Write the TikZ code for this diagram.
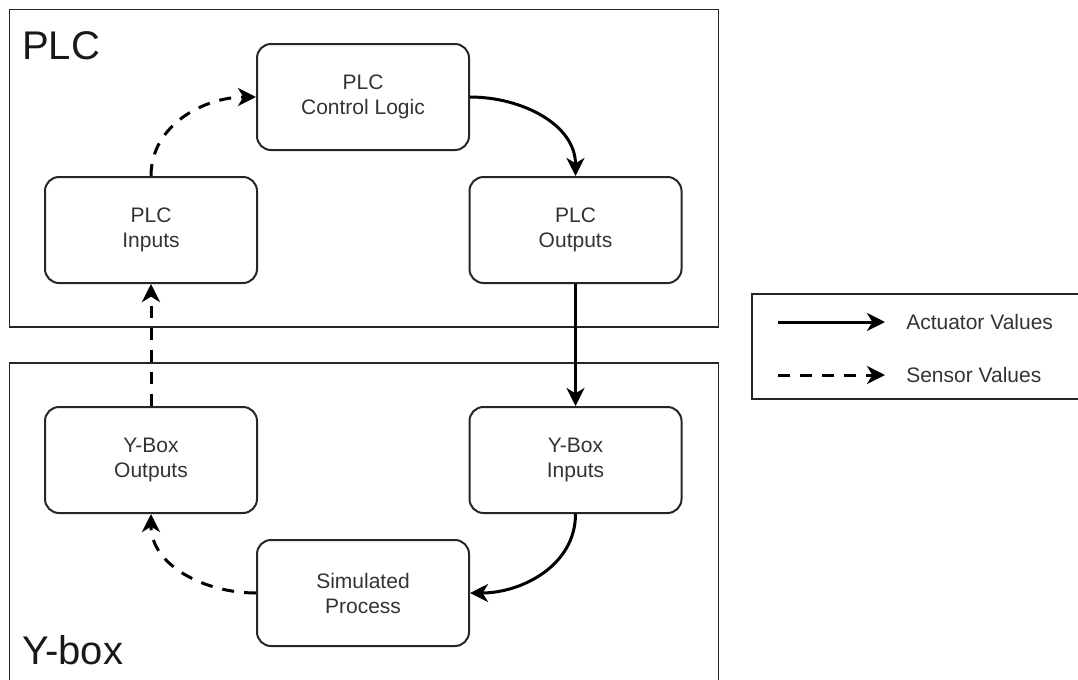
\documentclass[tikz,border=0pt]{standalone}
\usepackage{fontspec}
\setmainfont{Liberation Sans}
\usetikzlibrary{arrows.meta}
\begin{document}
\begin{tikzpicture}[x=0.75pt,y=-0.75pt,
  frame/.style={draw=black!85, line width=1.2pt},
  block/.style={draw=black!85, line width=1.5pt, rounded corners=10.5pt,
    minimum width=159pt, minimum height=79.5pt, inner sep=0pt, align=center,
    font=\fontsize{15.75}{18.75}\selectfont, text=black!80},
  title/.style={anchor=base west, inner sep=0pt, font=\fontsize{30}{36}\selectfont, text=black!90},
  legtext/.style={anchor=west, inner sep=0pt, font=\fontsize{15.75}{18.75}\selectfont, text=black!80},
  flow/.style={line width=2.25pt, draw=black, -{Stealth[length=13.5pt,width=13.5pt,inset=4pt]}},
  sense/.style={flow, dash pattern=on 9pt off 7.5pt}]
\clip (0,0) rectangle (1078,679);
\useasboundingbox (0,0) rectangle (1078,679);

% container frames
\draw[frame] (9.5,9.5) rectangle (718.5,327);
\draw[frame] (9.5,363) rectangle (718.5,700);
\node[title] (plclabel) at (22,59) {PLC};
\node[title] (yboxlabel) at (22,664) {Y-box};

% blocks
\node[block] (cl) at (363,97)   {PLC\\Control Logic};
\node[block] (pi) at (151,230)  {PLC\\Inputs};
\node[block] (po) at (575.5,230) {PLC\\Outputs};
\node[block] (yo) at (151,460)  {Y-Box\\Outputs};
\node[block] (yi) at (575.5,460) {Y-Box\\Inputs};
\node[block] (sp) at (363,593)  {Simulated\\Process};

% signal flow
\draw[sense] (pi.north) to[out=90,in=180] (cl.west);
\draw[flow]  (cl.east) to[out=0,in=90] (po.north);
\draw[flow]  (po.south) -- (yi.north);
\draw[flow]  (yi.south) to[out=-90,in=0] (sp.east);
\draw[sense] (sp.west) to[out=180,in=-90] (yo.south);
\draw[sense] (yo.north) -- (pi.south);

% legend
\draw[frame] (752,294) rectangle (1100,399);
\coordinate (a1) at (778,322);
\coordinate (a2) at (885,322);
\coordinate (s1) at (778,375);
\coordinate (s2) at (885,375);
\draw[flow] (a1) -- (a2);
\draw[sense] (s1) -- (s2);
\node[legtext] (lact) at (906,322) {Actuator Values};
\node[legtext] (lsen) at (906,375) {Sensor Values};
\end{tikzpicture}
\end{document}
